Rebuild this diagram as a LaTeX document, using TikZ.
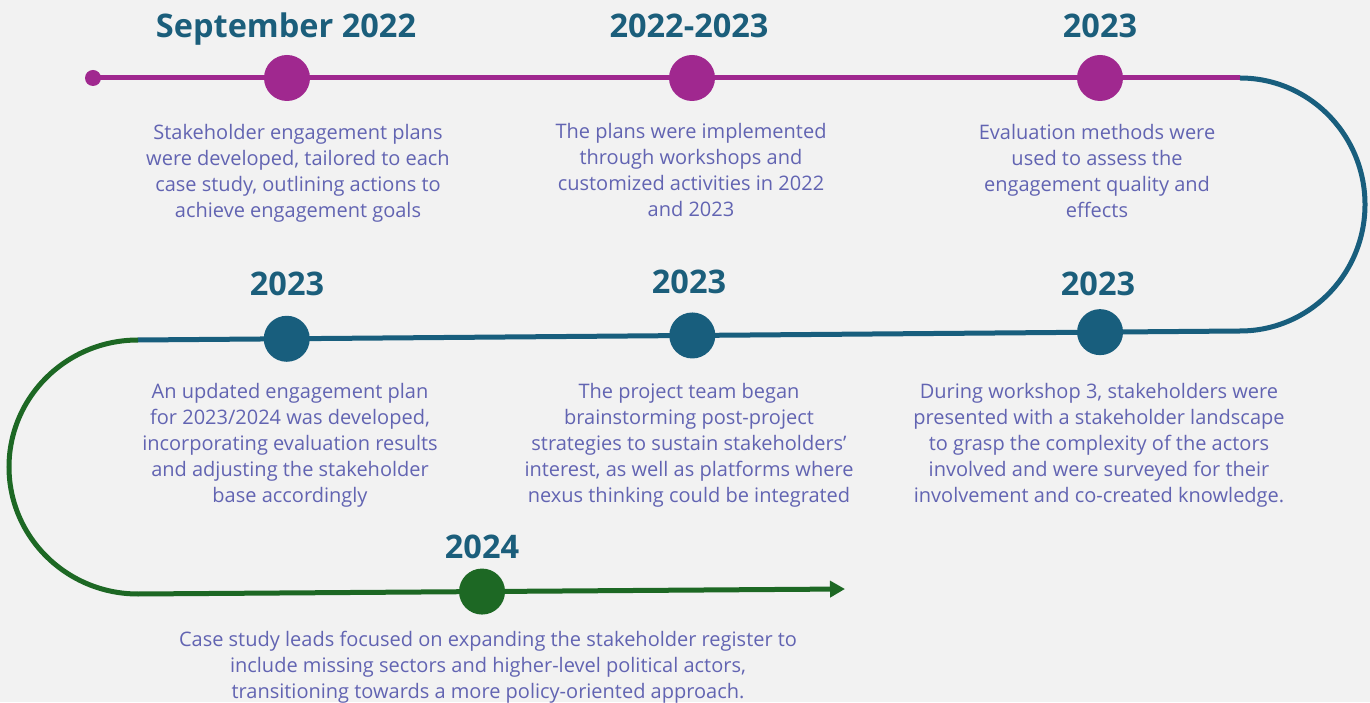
\documentclass[tikz,border=0pt]{standalone}
\usepackage{fontspec}
\setmainfont{Open Sans}
\usetikzlibrary{arrows.meta,calc}

\definecolor{bgcol}{RGB}{242,242,242}
\definecolor{purp}{RGB}{160,40,143}
\definecolor{teal}{RGB}{24,94,125}
\definecolor{grn}{RGB}{29,104,36}
\definecolor{ttl}{RGB}{27,94,123}
\definecolor{body}{RGB}{98,100,178}

\tikzset{
  track/.style={line width=5pt},
  milestone/.style={circle, inner sep=0pt, minimum size=46pt},
  yearlabel/.style={anchor=base, inner sep=0pt, text=ttl,
    font=\fontsize{32.5}{38}\selectfont\bfseries},
  desc/.style={anchor=north, inner sep=0pt, align=center, text=body,
    font=\fontsize{20}{26}\selectfont},
}

\begin{document}
\begin{tikzpicture}[x=1pt,y=1pt]
  \fill[bgcol] (0,0) rectangle (1370,702);
  \useasboundingbox (0,0) rectangle (1370,702);

  % track corner points
  \coordinate (a0) at (93,624);
  \coordinate (a1) at (1240,624);
  \coordinate (b0) at (1240,371);
  \coordinate (b1) at (138,362);
  \coordinate (c0) at (138,108);
  \coordinate (c1) at (845,113);

  % first row (purple)
  \draw[track, purp] (a0) -- (a1);
  \fill[purp] (a0) circle (8);
  % right bend and second row (teal)
  \draw[track, teal] (a1) arc[start angle=90, end angle=-90, x radius=125, y radius=126.5];
  \draw[track, teal] (b0) -- (b1);
  % left bend and third row (green)
  \draw[track, grn] (b1) arc[start angle=90, end angle=270, x radius=129, y radius=127];
  \draw[track, grn, -{Triangle[length=15pt,width=16pt]}] (c0) -- (c1);

  % milestones
  \node[milestone, fill=purp] (m1) at (287,624) {};
  \node[milestone, fill=purp] (m2) at (692,624) {};
  \node[milestone, fill=purp] (m3) at (1100,624) {};
  \node[milestone, fill=teal] (m4) at ($(b0)!0.127!(b1)$) {};
  \node[milestone, fill=teal] (m5) at ($(b0)!0.497!(b1)$) {};
  \node[milestone, fill=teal] (m6) at ($(b0)!0.865!(b1)$) {};
  \node[milestone, fill=grn] (m7) at ($(c0)!0.4866!(c1)$) {};

  % year headings
  \node[yearlabel] (y1) at (286,664) {September 2022};
  \node[yearlabel] (y2) at (689,664) {2022-2023};
  \node[yearlabel] (y3) at (1100,664) {2023};
  \node[yearlabel] (y4) at (287,406) {2023};
  \node[yearlabel] (y5) at (689,408) {2023};
  \node[yearlabel] (y6) at (1098,406) {2023};
  \node[yearlabel] (y7) at (482,144) {2024};

  % descriptions
  \node[desc] (d1) at (298,577.5) {Stakeholder engagement plans\\were developed, tailored to each\\case study, outlining actions to\\achieve engagement goals};
  \node[desc] (d2) at (691,578.5) {The plans were implemented\\through workshops and\\customized activities in 2022\\and 2023};
  \node[desc] (d3) at (1097,577.5) {Evaluation methods were\\used to assess the\\engagement quality and\\effects};
  \node[desc] (d4) at (290,318.5) {An updated engagement plan\\for 2023/2024 was developed,\\incorporating evaluation results\\and adjusting the stakeholder\\base accordingly};
  \node[desc] (d5) at (689,318.5) {The project team began\\brainstorming post-project\\strategies to sustain stakeholders'\\interest, as well as platforms where\\nexus thinking could be integrated};
  \node[desc] (d6) at (1099,318.5) {During workshop 3, stakeholders were\\presented with a stakeholder landscape\\to grasp the complexity of the actors\\involved and were surveyed for their\\involvement and co-created knowledge.};
  \node[desc] (d7) at (488,71.5) {Case study leads focused on expanding the stakeholder register to\\include missing sectors and higher-level political actors,\\transitioning towards a more policy-oriented approach.};
\end{tikzpicture}
\end{document}
